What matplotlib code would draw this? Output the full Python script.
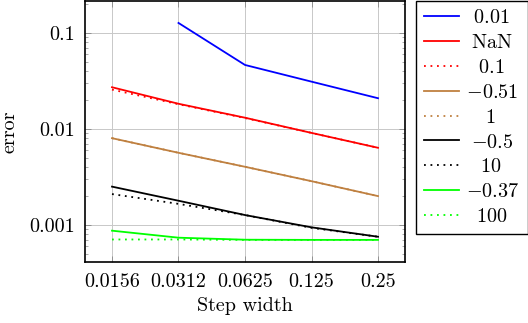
import matplotlib
matplotlib.use('Agg')
import matplotlib.pyplot as plt
import numpy as np
from matplotlib.ticker import FixedLocator, FixedFormatter, LogLocator, NullFormatter, NullLocator

plt.rcParams['font.family'] = 'serif'
plt.rcParams['font.serif'] = ['cmr10']
plt.rcParams['mathtext.fontset'] = 'cm'
plt.rcParams['axes.formatter.use_mathtext'] = True

fs = 14.5

# data
step = [0.015625, 0.03125, 0.0625, 0.125, 0.25]
step_labels = ['0.0156', '0.0312', '0.0625', '0.125', '0.25']

err_p001 = [np.nan, 0.127, 0.0464, 0.0311, 0.0209]
err_nan = [0.0272, 0.0183, 0.0131, 0.0091, 0.00637]
err_p01 = [0.0257, 0.0181, 0.0130, 0.0091, 0.00637]
err_m051 = [0.00802, 0.00565, 0.00404, 0.00286, 0.00200]
err_1 = [0.00802, 0.00565, 0.00404, 0.00286, 0.00200]
err_m05 = [0.00251, 0.00179, 0.00127, 0.000946, 0.000755]
err_10 = [0.00210, 0.00166, 0.00127, 0.000935, 0.000755]
err_m037 = [0.000873, 0.000738, 0.000703, 0.000700, 0.000700]
err_100 = [0.000707, 0.000707, 0.000700, 0.000700, 0.000700]

labels = [r'$0.01$', r'$\mathrm{NaN}$', r'$0.1$', r'${-0.51}$', r'$1$',
          r'${-0.5}$', r'$10$', r'${-0.37}$', r'$100$']
series = [err_p001, err_nan, err_p01, err_m051, err_1, err_m05, err_10, err_m037, err_100]
colors = ['#0000ff', '#ff0000', '#ff0000', '#bf8040', '#bf8040',
          'black', 'black', '#00ff00', '#00ff00']
dotted = (0, (1, 2.6))
styles = ['-', '-', dotted, '-', dotted, '-', dotted, '-', dotted]

fig = plt.figure(figsize=(5.28, 3.23), dpi=100)
ax = fig.add_axes([85/528, 1 - 262/323, 320/528, 261/323])

for ys, lab, c, ls in zip(series, labels, colors, styles):
    ax.plot(step, ys, color=c, linestyle=ls, lw=1.3, label=lab)

ax.set_xscale('log', base=2)
ax.set_yscale('log')
ax.set_xlim(2**-6.406, 2**-1.594)
ax.set_ylim(4.12e-4, 0.215)

ax.xaxis.set_major_locator(FixedLocator(step))
ax.xaxis.set_major_formatter(FixedFormatter(step_labels))
ax.xaxis.set_minor_locator(NullLocator())
ax.yaxis.set_major_locator(FixedLocator([0.001, 0.01, 0.1]))
ax.yaxis.set_major_formatter(FixedFormatter(['0.001', '0.01', '0.1']))
ax.yaxis.set_minor_locator(LogLocator(base=10, subs=np.arange(2, 10)))
ax.yaxis.set_minor_formatter(NullFormatter())

ax.tick_params(which='both', direction='in', top=True, right=True, labelsize=fs, color='#888888')
ax.tick_params(which='major', length=4, width=0.6, pad=7)
ax.tick_params(which='minor', length=2.5, width=0.5)
ax.tick_params(axis='x', pad=8)
ax.grid(True, which='major', color='#c8c8c8', lw=0.7)
ax.set_axisbelow(True)
for s in ax.spines.values():
    s.set_linewidth(1.2)

ax.set_xlabel('Step width', fontsize=fs, labelpad=4)
ax.set_ylabel('error', fontsize=fs, labelpad=8)

leg = fig.legend(loc='upper left', bbox_to_anchor=(416/528, 0.998), borderaxespad=0,
                 fontsize=fs, fancybox=False, framealpha=1, edgecolor='black',
                 handlelength=1.75, handletextpad=0.35, labelspacing=0.34, borderpad=0.4)
leg.get_frame().set_linewidth(1.0)

# center legend labels like pgfplots does
fig.canvas.draw()
r = fig.canvas.get_renderer()
texts = leg.get_texts()
widths = [t.get_window_extent(r).width for t in texts]
m = fig.text(0, 0, '$m$', fontsize=fs)
mw = m.get_window_extent(r).width
m.remove()
for t, w in zip(texts, widths):
    pad = (max(widths) - w) / 2 / mw
    t.set_text(r'$\hspace{%.3f}' % pad + t.get_text()[1:])

fig.savefig('out.png', dpi=100)
